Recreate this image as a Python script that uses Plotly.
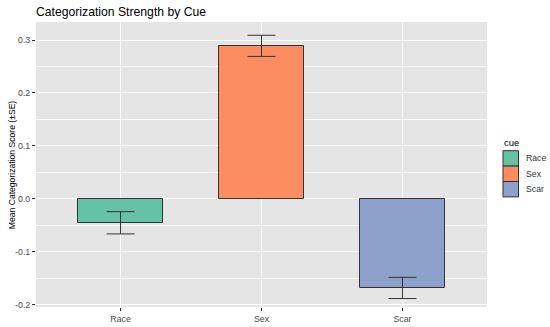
import plotly.graph_objects as go

categories = ["Race", "Sex", "Scar"]
means = [-0.045, 0.289, -0.168]
ses = [0.021, 0.020, 0.020]
colors = ["#66C2A5", "#FC8D62", "#8DA0CB"]
y_ticks = [-0.2, -0.1, 0.0, 0.1, 0.2, 0.3]
y_tick_labels = ["-0.2", "-0.1", "0.0", "0.1", "0.2", "0.3"]
legend_title = "cue"

W, H = 550, 327
L, R, T, B = 36, 487, 22, 307  # plot panel in pixels
PW, PH = R - L, B - T


def px(x):
    return (x - L) / PW


def py(y):
    return (B - y) / PH


fig = go.Figure()
for i, (c, m, s, col) in enumerate(zip(categories, means, ses, colors)):
    fig.add_trace(go.Bar(
        x=[i + 1], y=[m], name=c, width=0.6, showlegend=False,
        marker=dict(color=col, line=dict(color="#333333", width=1)),
        error_y=dict(type="data", array=[s], visible=True, color="#333333", thickness=1, width=14),
    ))

font = "Liberation Sans, Arial, sans-serif"

shapes = []
annotations = [
    dict(text=legend_title, x=px(502), y=py(142.5), xref="paper", yref="paper",
         xanchor="left", yanchor="middle", showarrow=False,
         font=dict(family=font, size=9.5, color="black")),
    dict(text="Mean Categorization Score (±SE)", x=px(11.7), y=0.5, xref="paper", yref="paper",
         xanchor="center", yanchor="middle", textangle=-90, showarrow=False,
         font=dict(family=font, size=8.6, color="black")),
]
key_top = 150.7
key_h = 15.4
for i, (c, col) in enumerate(zip(categories, colors)):
    y0 = key_top + i * key_h
    y1 = y0 + key_h
    shapes.append(dict(type="rect", xref="paper", yref="paper",
                       x0=px(503), x1=px(518.5), y0=py(y1), y1=py(y0),
                       fillcolor=col, line=dict(color="#333333", width=1)))
    annotations.append(dict(text=c, x=px(524), y=py((y0 + y1) / 2), xref="paper", yref="paper",
                            xanchor="left", yanchor="middle", showarrow=False,
                            font=dict(family=font, size=8.7, color="#333333")))

fig.update_layout(
    width=W, height=H,
    margin=dict(l=L, r=W - R, t=T, b=H - B, autoexpand=False),
    paper_bgcolor="white", plot_bgcolor="#E5E5E5",
    font=dict(family=font, size=9, color="#4D4D4D"),
    title=dict(text="Categorization Strength by Cue", x=36 / W, xanchor="left", y=1 - 11.5 / H, yanchor="middle",
               font=dict(family=font, size=12.2, color="black")),
    showlegend=False,
    bargap=0,
    shapes=shapes,
    annotations=annotations,
)
fig.update_xaxes(
    range=[0.4, 3.6], tickvals=[1, 2, 3], ticktext=categories,
    showgrid=True, gridcolor="white", gridwidth=1.1, zeroline=False,
    ticks="outside", ticklen=3, tickcolor="#333333", tickwidth=1,
    tickfont=dict(family=font, size=8.8, color="#4D4D4D"), showline=False, automargin=False,
)
fig.update_yaxes(
    range=[-0.204, 0.334], tickvals=y_ticks, ticktext=y_tick_labels,
    showgrid=True, gridcolor="white", gridwidth=1.1, zeroline=False,
    minor=dict(dtick=0.05, tick0=0, showgrid=True, gridcolor="white", gridwidth=0.5),
    ticks="outside", ticklen=3, tickcolor="#333333", tickwidth=1,
    tickfont=dict(family=font, size=8.8, color="#4D4D4D"), automargin=False,
)
fig.write_html("out.html", config={"displayModeBar": False},
               post_script="document.body.style.margin='0';")
